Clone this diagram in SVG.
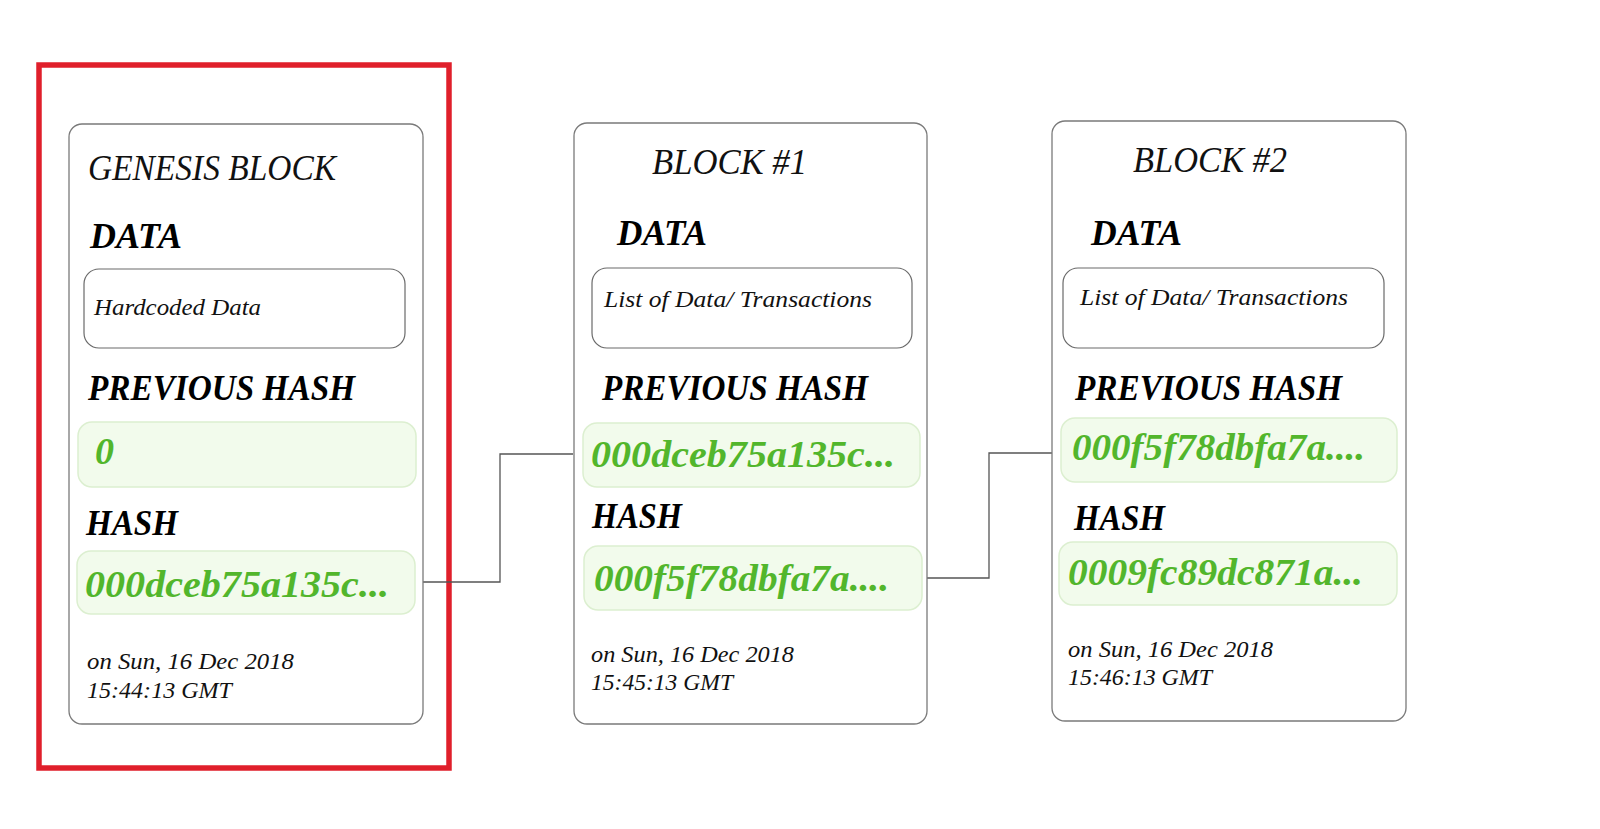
<svg xmlns="http://www.w3.org/2000/svg" width="1600" height="829" viewBox="0 0 1600 829">
<style>
.card{fill:#fff;stroke:#7a7a7a;stroke-width:1.3}
.dbox{fill:#fff;stroke:#6a6a6a;stroke-width:1.2}
.gbox{fill:#f2fbec;stroke:#dcefd0;stroke-width:1.5}
.title{font-family:"Liberation Serif",serif;font-style:italic;font-size:35px;fill:#111}
.lbl{font-family:"Liberation Serif",serif;font-style:italic;font-weight:bold;font-size:36px;fill:#000}
.small{font-family:"Liberation Serif",serif;font-style:italic;font-size:23px;fill:#111}
.hash{font-family:"Liberation Serif",serif;font-style:italic;font-weight:bold;font-size:38px;fill:#52b62c}
.conn{fill:none;stroke:#555;stroke-width:1.3}
</style>
<rect width="1600" height="829" fill="#fff"/>
<rect id="highlight" x="39" y="65" width="410" height="703" fill="none" stroke="#e01f2b" stroke-width="5.5"/>
<g id="connectors">
<polyline class="conn" points="423,582 500,582 500,454 573,454"/>
<polyline class="conn" points="927,578 989,578 989,453 1052,453"/>
</g>
<g id="genesis">
<rect class="card" x="69" y="124" width="354" height="600" rx="13"/>
<text class="title" x="88" y="180" textLength="248" lengthAdjust="spacingAndGlyphs">GENESIS BLOCK</text>
<text class="lbl" x="90" y="248" textLength="92" lengthAdjust="spacingAndGlyphs">DATA</text>
<rect class="dbox" x="84" y="269" width="321" height="79" rx="15"/>
<text class="small" x="94" y="315" textLength="167" lengthAdjust="spacingAndGlyphs">Hardcoded Data</text>
<text class="lbl" x="88" y="400" textLength="267" lengthAdjust="spacingAndGlyphs">PREVIOUS HASH</text>
<rect class="gbox" x="78" y="422" width="338" height="65" rx="14"/>
<text class="hash" x="95" y="464">0</text>
<text class="lbl" x="86" y="535" textLength="92" lengthAdjust="spacingAndGlyphs">HASH</text>
<rect class="gbox" x="77" y="551" width="338" height="63" rx="14"/>
<text class="hash" x="85" y="597" textLength="304" lengthAdjust="spacingAndGlyphs">000dceb75a135c...</text>
<text class="small" x="87" y="669" textLength="207" lengthAdjust="spacingAndGlyphs">on Sun, 16 Dec 2018</text>
<text class="small" x="87" y="698" textLength="145" lengthAdjust="spacingAndGlyphs">15:44:13 GMT</text>
</g>
<g id="block1">
<rect class="card" x="574" y="123" width="353" height="601" rx="13"/>
<text class="title" x="652" y="174" textLength="155" lengthAdjust="spacingAndGlyphs">BLOCK #1</text>
<text class="lbl" x="617" y="245" textLength="90" lengthAdjust="spacingAndGlyphs">DATA</text>
<rect class="dbox" x="592" y="268" width="320" height="80" rx="15"/>
<text class="small" x="604" y="307" textLength="268" lengthAdjust="spacingAndGlyphs">List of Data/ Transactions</text>
<text class="lbl" x="602" y="400" textLength="266" lengthAdjust="spacingAndGlyphs">PREVIOUS HASH</text>
<rect class="gbox" x="583" y="423" width="337" height="64" rx="14"/>
<text class="hash" x="591" y="467" textLength="304" lengthAdjust="spacingAndGlyphs">000dceb75a135c...</text>
<text class="lbl" x="592" y="528" textLength="90" lengthAdjust="spacingAndGlyphs">HASH</text>
<rect class="gbox" x="584" y="546" width="338" height="64" rx="14"/>
<text class="hash" x="594" y="591" textLength="295" lengthAdjust="spacingAndGlyphs">000f5f78dbfa7a....</text>
<text class="small" x="591" y="662" textLength="203" lengthAdjust="spacingAndGlyphs">on Sun, 16 Dec 2018</text>
<text class="small" x="591" y="690" textLength="142" lengthAdjust="spacingAndGlyphs">15:45:13 GMT</text>
</g>
<g id="block2">
<rect class="card" x="1052" y="121" width="354" height="600" rx="13"/>
<text class="title" x="1133" y="172" textLength="154" lengthAdjust="spacingAndGlyphs">BLOCK #2</text>
<text class="lbl" x="1091" y="245" textLength="91" lengthAdjust="spacingAndGlyphs">DATA</text>
<rect class="dbox" x="1063" y="268" width="321" height="80" rx="15"/>
<text class="small" x="1080" y="305" textLength="268" lengthAdjust="spacingAndGlyphs">List of Data/ Transactions</text>
<text class="lbl" x="1075" y="400" textLength="267" lengthAdjust="spacingAndGlyphs">PREVIOUS HASH</text>
<rect class="gbox" x="1061" y="418" width="336" height="64" rx="14"/>
<text class="hash" x="1072" y="460" textLength="293" lengthAdjust="spacingAndGlyphs">000f5f78dbfa7a....</text>
<text class="lbl" x="1074" y="530" textLength="91" lengthAdjust="spacingAndGlyphs">HASH</text>
<rect class="gbox" x="1059" y="542" width="338" height="63" rx="14"/>
<text class="hash" x="1068" y="585" textLength="295" lengthAdjust="spacingAndGlyphs">0009fc89dc871a...</text>
<text class="small" x="1068" y="657" textLength="205" lengthAdjust="spacingAndGlyphs">on Sun, 16 Dec 2018</text>
<text class="small" x="1068" y="685" textLength="144" lengthAdjust="spacingAndGlyphs">15:46:13 GMT</text>
</g>
</svg>
